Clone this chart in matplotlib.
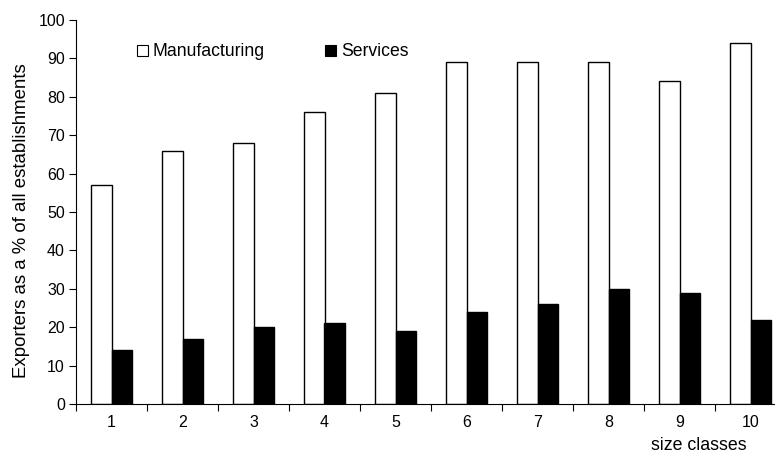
import matplotlib
matplotlib.use("Agg")
import matplotlib.pyplot as plt
import numpy as np
from matplotlib.patches import Patch

plt.rcParams['font.family'] = ['Liberation Sans', 'DejaVu Sans']

categories = ["1", "2", "3", "4", "5", "6", "7", "8", "9", "10"]
manufacturing = [57, 66, 68, 76, 81, 89, 89, 89, 84, 94]
services = [14, 17, 20, 21, 19, 24, 26, 30, 29, 22]
yticks = [0, 10, 20, 30, 40, 50, 60, 70, 80, 90, 100]

W, H = 775, 455
fig = plt.figure(figsize=(W / 100, H / 100), dpi=100)
left, right, top, bottom = 76, 786, 20, 404
ax = fig.add_axes([left / W, 1 - bottom / H, (right - left) / W, (bottom - top) / H])

x = np.arange(1, len(categories) + 1)
bw = 0.29
ax.bar(x - bw / 2, manufacturing, bw, color='white', edgecolor='black', linewidth=1.0, label='Manufacturing')
ax.bar(x + bw / 2, services, bw, color='black', edgecolor='black', linewidth=1.0, label='Services')

ax.set_xlim(0.5, 10.5)
ax.set_ylim(0, 100)
ax.set_yticks(yticks)
ax.set_yticklabels([str(v) for v in yticks], fontsize=11.5)

ax.set_xticks(np.arange(0.5, 11, 1))
ax.set_xticklabels([])
ax.set_xticks(x, minor=True)
ax.set_xticklabels(categories, minor=True, fontsize=11.5)
ax.tick_params(axis='x', which='minor', length=0, pad=8)
ax.tick_params(axis='x', which='major', length=5, direction='out', width=0.8)
ax.tick_params(axis='y', length=5, direction='out', width=0.8, pad=3)

for s in ['top', 'right']:
    ax.spines[s].set_visible(False)
ax.spines['left'].set_linewidth(0.8)
ax.spines['bottom'].set_linewidth(0.8)

fig.text(22 / W, 1 - 221 / H, "Exporters as a % of all establishments", rotation=90,
         ha='center', va='center', fontsize=13.4)
fig.text(699 / W, 1 - 446 / H, "size classes", ha='center', va='center', fontsize=12.8)

handles = [Patch(facecolor='white', edgecolor='black', linewidth=0.8),
           Patch(facecolor='black', edgecolor='black', linewidth=0.8)]
leg = ax.legend(handles, ['Manufacturing', 'Services'], ncol=2, frameon=False,
                loc='center left', bbox_to_anchor=((137 - left) / (right - left), 1 - (52 - top) / (bottom - top)),
                fontsize=12.7, handlelength=0.6, handleheight=0.6, handletextpad=0.3,
                columnspacing=3.4, borderaxespad=0, borderpad=0)

fig.savefig("out.png", dpi=100)
